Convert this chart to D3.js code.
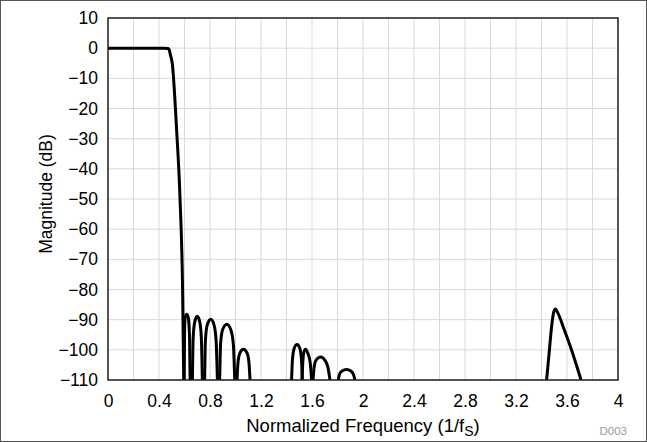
<!DOCTYPE html>
<html>
<head>
<meta charset="utf-8">
<script src="https://cdn.jsdelivr.net/npm/d3@7"></script>
<style>
  body { margin: 0; background: #fff; }
  svg { display: block; font-family: "Liberation Sans", Arial, sans-serif; }
</style>
</head>
<body>
<svg class="chart"></svg>
<script>
// Frequency response: [normalized freq, dB]
let passband = [
  [0, 0], [0.44, 0], [0.47, -0.1], [0.48, -0.5], [0.488, -2], [0.504, -5],
  [0.538, -27], [0.565, -50], [0.585, -80], [0.594, -110]
]

// first group of stopband lobes (clipped at -110)
let lobes1 = [
  [[0.598, -110], [0.600, -95], [0.606, -89], [0.620, -88.2], [0.632, -90], [0.640, -97], [0.644, -110]],
  [[0.662, -110], [0.668, -96], [0.680, -90.8], [0.700, -88.9], [0.720, -90.8], [0.732, -96], [0.740, -110]],
  [[0.758, -110], [0.764, -97], [0.778, -91.8], [0.806, -89.9], [0.832, -91.8], [0.848, -97], [0.858, -110]],
  [[0.876, -110], [0.883, -98], [0.900, -93.2], [0.932, -91.5], [0.962, -93.2], [0.983, -98], [0.994, -110]],
  [[1.012, -110], [1.020, -104], [1.035, -101], [1.062, -99.8], [1.090, -101], [1.105, -104], [1.114, -110]]
]

// second group around 1.5
let lobes2 = [
  [[1.440, -110], [1.447, -103], [1.462, -99.3], [1.483, -98.2], [1.503, -99.3], [1.517, -103], [1.524, -110]],
  [[1.522, -110], [1.528, -104], [1.537, -100.6], [1.550, -99.8], [1.566, -101], [1.585, -104], [1.597, -110]],
  [[1.608, -110], [1.616, -106], [1.632, -103.4], [1.668, -102.4], [1.700, -103.4], [1.726, -106], [1.741, -110]],
  [[1.806, -110], [1.815, -108.2], [1.835, -107], [1.872, -106.5], [1.905, -107], [1.925, -108.2], [1.937, -110]]
]

// image lobe near 3.5
let lobe3 = [
  [3.44, -110], [3.46, -101], [3.48, -92], [3.497, -87.3], [3.51, -86.5],
  [3.525, -87.5], [3.58, -93.5], [3.637, -100.2], [3.71, -110]
]

let xTicks = [0, 0.4, 0.8, 1.2, 1.6, 2, 2.4, 2.8, 3.2, 3.6, 4]
let xGrid = d3.range(0, 4.001, 0.2)
let yTicks = [10, 0, -10, -20, -30, -40, -50, -60, -70, -80, -90, -100, -110]

let W = 647, H = 442
let margin = { top: 18, right: 29, bottom: 62, left: 108 }
let width = W - margin.left - margin.right
let height = H - margin.top - margin.bottom

let svg = d3.select('.chart').attr('width', W).attr('height', H)

// outer frame
svg.append('rect')
  .attr('x', 0.5).attr('y', 0.5)
  .attr('width', W - 1).attr('height', H - 1)
  .attr('fill', 'none').attr('stroke', '#555').attr('stroke-width', 1)

let chart = svg.append('g')
  .attr('transform', 'translate(' + margin.left + ',' + margin.top + ')')

let x = d3.scaleLinear().domain([0, 4]).range([0, width])
let y = d3.scaleLinear().domain([-110, 10]).range([height, 0])

// grid
chart.append('g').selectAll('line')
  .data(xGrid).enter().append('line')
  .attr('x1', d => x(d)).attr('x2', d => x(d))
  .attr('y1', 0).attr('y2', height)
  .attr('stroke', '#d9d9d9').attr('stroke-width', 1)

chart.append('g').selectAll('line')
  .data(yTicks).enter().append('line')
  .attr('x1', 0).attr('x2', width)
  .attr('y1', d => y(d)).attr('y2', d => y(d))
  .attr('stroke', '#d9d9d9').attr('stroke-width', 1)

// axes (labels only, no tick marks)
let xAxis = chart.append('g').attr('class', 'axis x')
  .attr('transform', 'translate(0,' + height + ')')
  .call(d3.axisBottom(x).tickValues(xTicks).tickSize(0).tickPadding(15).tickFormat(d3.format('')))
xAxis.select('.domain').remove()

let yAxis = chart.append('g').attr('class', 'axis y')
  .call(d3.axisLeft(y).tickValues(yTicks).tickSize(0).tickPadding(10))
yAxis.select('.domain').remove()

chart.selectAll('.axis text')
  .attr('font-size', 17.5).attr('fill', '#000')
  .attr('font-family', '"Liberation Sans", Arial, sans-serif')

// data
chart.append('clipPath').attr('id', 'plotclip')
  .append('rect').attr('width', width).attr('height', height)

let line = d3.line()
  .x(d => x(d[0]))
  .y(d => y(d[1]))
  .curve(d3.curveMonotoneX)

let curves = [passband].concat(lobes1, lobes2, [lobe3])

chart.append('g').attr('clip-path', 'url(#plotclip)')
  .selectAll('path')
  .data(curves).enter().append('path')
  .attr('d', line)
  .attr('fill', 'none')
  .attr('stroke', '#000')
  .attr('stroke-width', 3)
  .attr('stroke-linejoin', 'round')

// plot frame
chart.append('rect')
  .attr('width', width).attr('height', height)
  .attr('fill', 'none').attr('stroke', '#222').attr('stroke-width', 1.5)

// axis titles
let xTitle = svg.append('text')
  .attr('x', margin.left + width / 2)
  .attr('y', 432)
  .attr('text-anchor', 'middle')
  .attr('font-size', 18.5)
xTitle.append('tspan').text('Normalized Frequency (1/f')
xTitle.append('tspan').attr('dy', 4).attr('font-size', 14).text('S')
xTitle.append('tspan').attr('dy', -4).text(')')

svg.append('text')
  .attr('transform', 'translate(52,' + 194 + ') rotate(-90)')
  .attr('text-anchor', 'middle')
  .attr('font-size', 17.5)
  .text('Magnitude (dB)')

svg.append('text')
  .attr('x', 627).attr('y', 435)
  .attr('text-anchor', 'end')
  .attr('font-size', 11.5)
  .attr('fill', '#999')
  .text('D003')
</script>
</body>
</html>
